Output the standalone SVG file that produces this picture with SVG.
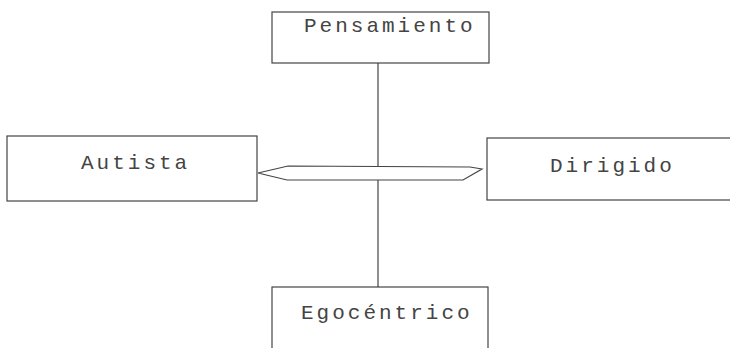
<svg xmlns="http://www.w3.org/2000/svg" width="730" height="348" viewBox="0 0 730 348">
<style>
.box{fill:none;stroke:#444;stroke-width:1.2}
.lbl{font-family:"Liberation Mono","DejaVu Sans Mono",monospace;font-size:21px;letter-spacing:3px;fill:#444}
.con{fill:none;stroke:#444;stroke-width:1.2}
</style>
<rect width="730" height="348" fill="#fff"/>
<g id="pensamiento">
<rect class="box" x="272" y="12" width="217" height="51"/>
<text class="lbl" x="304" y="32">Pensamiento</text>
</g>
<g id="autista">
<rect class="box" x="7" y="136" width="250" height="65"/>
<text class="lbl" x="81" y="169">Autista</text>
</g>
<g id="dirigido">
<rect class="box" x="487" y="138" width="260" height="62"/>
<text class="lbl" x="550" y="172">Dirigido</text>
</g>
<g id="egocentrico">
<rect class="box" x="272" y="287" width="216" height="80"/>
<text class="lbl" x="301" y="319">Egocéntrico</text>
</g>
<g id="connectors">
<line class="con" x1="378" y1="63" x2="378" y2="166"/>
<line class="con" x1="378" y1="180" x2="378" y2="287"/>
<path class="con" d="M258,173 L288,166 L470,167 L482,169 L463,180 L287,180 Z"/>
</g>
</svg>
